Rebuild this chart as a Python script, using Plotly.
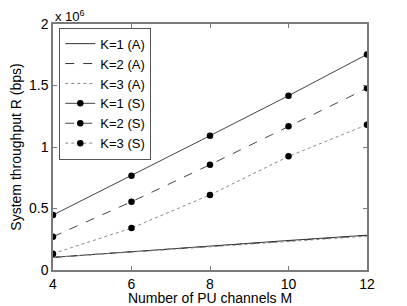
import plotly.graph_objects as go

M = [4, 6, 8, 10, 12]
k1_A = [0.103, 0.150, 0.195, 0.240, 0.283]
k2_A = [0.103, 0.149, 0.194, 0.238, 0.281]
k3_A = [0.103, 0.147, 0.190, 0.233, 0.275]
k1_S = [0.447, 0.767, 1.092, 1.417, 1.753]
k2_S = [0.271, 0.555, 0.856, 1.168, 1.477]
k3_S = [0.133, 0.341, 0.610, 0.924, 1.181]
scale = 1e6

FONT = "Liberation Sans, Arial, sans-serif"
fig = go.Figure()

def line(name, y, dash, color, width):
    fig.add_trace(go.Scatter(x=M, y=[v * scale for v in y], mode="lines", name=name,
                             line=dict(color=color, width=width, dash=dash)))

def linemark(name, y, dash, color, width):
    fig.add_trace(go.Scatter(x=M, y=[v * scale for v in y], mode="lines+markers", name=name,
                             line=dict(color=color, width=width, dash=dash),
                             marker=dict(color="black", size=6.5)))

line("K=1 (A)", k1_A, "solid", "#333333", 1)
line("K=2 (A)", k2_A, "dash", "#333333", 1)
line("K=3 (A)", k3_A, "dot", "#888888", 1)
linemark("K=1 (S)", k1_S, "solid", "#444444", 1)
linemark("K=2 (S)", k2_S, "dash", "#444444", 1)
linemark("K=3 (S)", k3_S, "dot", "#888888", 1)

axis_common = dict(showline=True, linecolor="#7a7a7a", linewidth=1.5, mirror="allticks",
                   ticks="inside", ticklen=4, tickcolor="#7a7a7a", showgrid=False, zeroline=False,
                   automargin=False,
                   tickfont=dict(family=FONT, size=14, color="black"))

fig.update_layout(
    width=399, height=298,
    margin=dict(l=45, r=40, t=16, b=36, autoexpand=False),
    paper_bgcolor="white", plot_bgcolor="white",
    font=dict(family=FONT, size=14, color="black"),
    xaxis=dict(range=[4, 12], tickvals=[4, 6, 8, 10, 12],
               title=dict(text="Number of PU channels M", standoff=0,
                          font=dict(family=FONT, size=14)),
               **axis_common),
    yaxis=dict(range=[0, 2e6], tickvals=[0, 0.5e6, 1e6, 1.5e6, 2e6],
               ticktext=["0", "0.5", "1", "1.5", "2"],
               title=dict(text="System throughput R (bps)", standoff=4,
                          font=dict(family=FONT, size=14)),
               **axis_common),
    legend=dict(x=0.02, y=0.985, xanchor="left", yanchor="top",
                bordercolor="#555555", borderwidth=1, bgcolor="white",
                font=dict(family=FONT, size=13), tracegroupgap=0),
    showlegend=True,
    annotations=[dict(text="x 10<sup>6</sup>", xref="paper", yref="paper", x=0.0, y=1.0,
                      xanchor="left", yanchor="bottom", showarrow=False, yshift=-2,
                      font=dict(family=FONT, size=13))],
)

fig.write_html("out.html")
